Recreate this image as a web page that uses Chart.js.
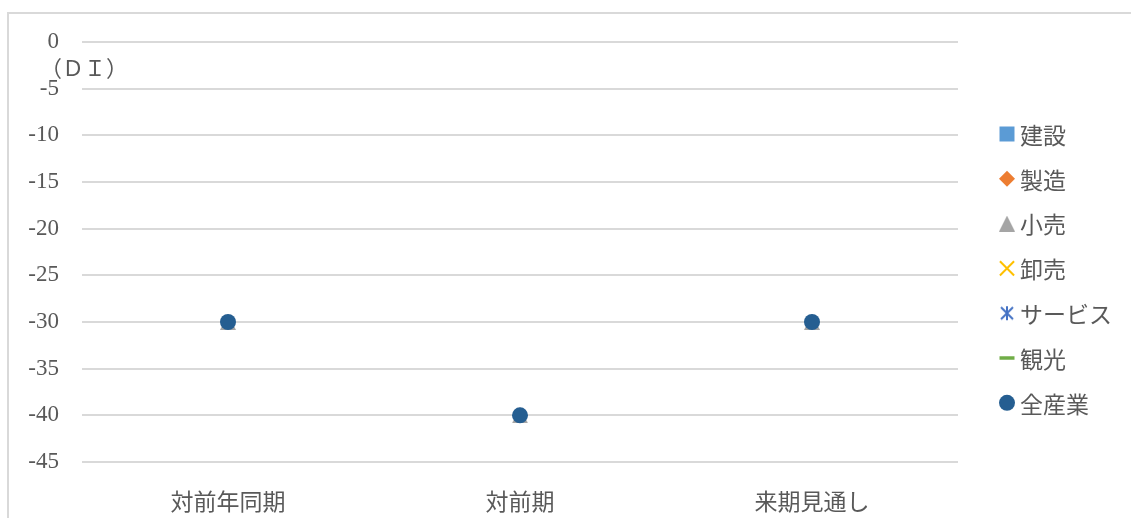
<!DOCTYPE html>
<html>
<head>
<meta charset="utf-8">
<script src="https://cdn.jsdelivr.net/npm/chart.js@4/dist/chart.umd.min.js"></script>
<style>
  html, body { margin: 0; padding: 0; background: #fff; overflow: hidden; }
  #frame { position: absolute; left: 7px; top: 12px; width: 1200px; height: 600px;
           border: 2px solid #d9d9d9; box-sizing: border-box; }
  #c { position: absolute; left: 0; top: 0; }
</style>
</head>
<body>
<div id="frame"></div>
<canvas id="c" width="1131" height="518"></canvas>
<script>
// 業況DI（対前年同期・対前期・来期見通し）
const periods = ['対前年同期', '対前期', '来期見通し'];
const seriesNames = ['建設', '製造', '小売', '卸売', 'サービス', '観光', '全産業'];
const construction = [null, null, null];
const manufacturing = [null, null, null];
const retail = [-30, -40, -30];
const wholesale = [null, null, null];
const services = [null, null, null];
const tourism = [null, null, null];
const allIndustries = [-30, -40, -30];
const yTicks = [0, -5, -10, -15, -20, -25, -30, -35, -40, -45];
const unitLabel = '（ＤＩ）';

const textGray = '#595959';
const gridGray = '#d9d9d9';

// marker images for shapes the library does not offer in this form
function triangleMarker(size, color) {
  const c = document.createElement('canvas');
  c.width = size; c.height = size;
  const g = c.getContext('2d');
  g.fillStyle = color;
  g.beginPath();
  g.moveTo(size / 2, 0);
  g.lineTo(size, size);
  g.lineTo(0, size);
  g.closePath();
  g.fill();
  return c;
}
function asteriskMarker(size, color) {
  const c = document.createElement('canvas');
  c.width = size; c.height = size;
  const g = c.getContext('2d');
  g.strokeStyle = color;
  g.lineWidth = 2;
  g.beginPath();
  g.moveTo(size / 2, 1); g.lineTo(size / 2, size - 1);
  g.moveTo(2, 2); g.lineTo(size - 2, size - 2);
  g.moveTo(size - 2, 2); g.lineTo(2, size - 2);
  g.stroke();
  return c;
}

const values = [construction, manufacturing, retail, wholesale, services, tourism, allIndustries];
const styles = [
  { pointStyle: 'rect', radius: 10.6, color: '#5b9bd5', border: 0 },
  { pointStyle: 'rectRot', radius: 8, color: '#ed7d31', border: 0 },
  { pointStyle: triangleMarker(16, '#a5a5a5'), radius: 8, color: '#a5a5a5', border: 0 },
  { pointStyle: 'crossRot', radius: 10, color: '#ffc000', border: 2 },
  { pointStyle: asteriskMarker(16, '#4472c4'), radius: 8, color: '#4472c4', border: 0 },
  { pointStyle: 'line', radius: 7.5, color: '#70ad47', border: 3.5 },
  { pointStyle: 'circle', radius: 8, color: '#255e91', border: 0 }
];

const datasets = seriesNames.map((name, i) => ({
  label: name,
  data: values[i],
  showLine: false,
  pointStyle: styles[i].pointStyle,
  pointRadius: styles[i].radius,
  pointBackgroundColor: styles[i].color,
  pointBorderColor: styles[i].color,
  pointBorderWidth: styles[i].border,
  order: name === '全産業' ? 0 : 1
}));

// legend column on the right
const sideLegend = {
  id: 'sideLegend',
  afterDraw(chart) {
    const ctx = chart.ctx;
    const x = 1007, textX = 1020, top = 134, step = 44.8;
    ctx.save();
    chart.data.datasets.forEach((ds, i) => {
      const y = top + i * step;
      ctx.fillStyle = ds.pointBackgroundColor;
      ctx.strokeStyle = ds.pointBorderColor;
      ctx.lineWidth = ds.pointBorderWidth;
      Chart.helpers.drawPoint(ctx, {
        pointStyle: ds.pointStyle, radius: ds.pointRadius,
        rotation: 0, borderWidth: ds.pointBorderWidth
      }, x, y);
      ctx.fillStyle = textGray;
      ctx.font = '23px "Noto Sans CJK JP"';
      ctx.textAlign = 'left';
      ctx.textBaseline = 'middle';
      ctx.fillText(ds.label, textX, y + 1);
    });
    ctx.restore();
  }
};

// unit caption under the top tick
const unitCaption = {
  id: 'unitCaption',
  afterDraw(chart) {
    const ctx = chart.ctx;
    ctx.save();
    ctx.fillStyle = textGray;
    ctx.font = '22px "Liberation Serif", "Noto Sans CJK JP"';
    ctx.textAlign = 'left';
    ctx.textBaseline = 'middle';
    ctx.fillText(unitLabel, 40, 70);
    ctx.restore();
  }
};

new Chart(document.getElementById('c'), {
  type: 'line',
  data: { labels: periods, datasets },
  plugins: [sideLegend, unitCaption],
  options: {
    responsive: false,
    animation: false,
    devicePixelRatio: 1,
    events: [],
    layout: { padding: { left: 0, right: 173, top: 42, bottom: 0 } },
    plugins: { legend: { display: false }, tooltip: { enabled: false } },
    scales: {
      x: {
        offset: true,
        grid: { display: false },
        border: { display: false },
        ticks: {
          color: textGray,
          padding: 17,
          font: { family: '"Noto Sans CJK JP"', size: 23 }
        },
        afterFit(s) { s.height = 56; }
      },
      y: {
        min: Math.min(...yTicks),
        max: Math.max(...yTicks),
        afterBuildTicks(s) { s.ticks = yTicks.map(v => ({ value: v })); },
        grid: { color: gridGray, lineWidth: 2, drawTicks: false },
        border: { display: false },
        ticks: {
          color: textGray,
          padding: 23,
          autoSkip: false,
          font: { family: '"Liberation Serif"', size: 23 }
        },
        afterFit(s) { s.width = 82; }
      }
    }
  }
});
</script>
</body>
</html>
